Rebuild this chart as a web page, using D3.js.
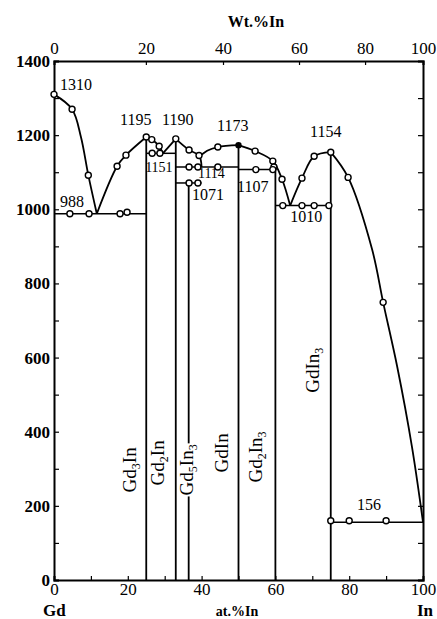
<!DOCTYPE html>
<html>
<head>
<meta charset="utf-8">
<script src="https://cdn.jsdelivr.net/npm/d3@7"></script>
<style>
  body { margin: 0; background: #fff; }
  svg { display: block; }
</style>
</head>
<body>
<div id="chart"></div>
<script>
// liquidus branches, [at.% In, temperature]
const liquidus = [
    [[0, 1310], [4.9, 1270], [7.3, 1195], [9.3, 1092], [11.6, 988]],
    [[11.6, 988], [17.1, 1116], [19.5, 1146], [25, 1195]],
    [[25, 1195], [26.5, 1188], [28.5, 1170], [29.5, 1151]],
    [[29.5, 1151], [33, 1190]],
    [[33, 1190], [36.6, 1160], [39.3, 1145], [40, 1114]],
    [[39, 1138], [41.5, 1158], [44.4, 1168], [50, 1173]],
    [[50, 1173], [54.5, 1157], [59.3, 1130], [61.8, 1081], [64, 1010]],
    [[64, 1010], [67.2, 1084], [70.5, 1143], [75, 1154]],
    [[75, 1154], [79.7, 1086], [86.2, 892], [89.2, 749], [93, 576], [97, 360], [100, 156]]
];

// invariant lines: [from, to, temperature]
const isotherms = [
    [0, 25, 988], [25, 33, 1151], [33, 50, 1114], [33, 40, 1071],
    [50, 60, 1107], [60, 75, 1010], [75, 100, 156]
];

// compounds
const compNames = ["Gd3In", "Gd2In", "Gd5In3", "GdIn", "Gd2In3", "GdIn3"];
const compX = [25, 33, 36.5, 50, 60, 75];
const compTop = [1195, 1190, 1071, 1173, 1107, 1154];
const compLabelAt = [[23.2, 297], [30.8, 316], [38.7, 297], [48.2, 343], [57.4, 332], [72.8, 566]];

// measured points
const liqPts = [
    [0, 1310], [4.9, 1270], [9.3, 1092], [17.1, 1116], [19.5, 1146], [25, 1195],
    [26.5, 1188], [28.5, 1170], [33, 1190], [36.6, 1160], [39.3, 1145], [44.4, 1168],
    [54.5, 1157], [59.3, 1130], [59.6, 1114], [61.8, 1081], [67.2, 1084], [70.5, 1143],
    [75, 1154], [79.7, 1086], [89.2, 749]
];
const solPts = [
    [4.3, 988], [9.5, 988], [17.9, 988], [19.8, 992],
    [26.6, 1151], [28.7, 1151],
    [36.6, 1114], [39, 1114], [44.4, 1114],
    [36.6, 1071], [39, 1071],
    [54.7, 1107], [59.3, 1107],
    [62, 1010], [67.2, 1010], [70.5, 1010], [74.5, 1010],
    [75, 160], [80, 160], [90, 160]
];
const filledPts = [[50, 1173]];

// temperature labels: [text, at.%, temperature]
const tempLabels = [
    ["1310", 1.6, 1322], ["1195", 17.9, 1227], ["1190", 29.3, 1227],
    ["1173", 44.2, 1211], ["1154", 69.4, 1195], ["1151", 24.7, 1101],
    ["1114", 39.0, 1084], ["1071", 37.4, 1025], ["1107", 49.6, 1047],
    ["1010", 64.0, 966], ["988", 1.6, 1006], ["156", 82.1, 189]
];

const yTicks = d3.range(0, 1401, 100);
const xTicks = d3.range(0, 101, 10);
const wtLabels = [0, 20, 40, 60, 80, 100];
const wtAtPos = [0, 24.9, 45.8, 66.4, 84.3, 100];

const width = 437, height = 619;
const margin = { top: 61, right: 14, bottom: 39, left: 54 };
const font = "'Liberation Serif', 'Times New Roman', serif";

const svg = d3.select("#chart").append("svg")
    .attr("width", width)
    .attr("height", height)
    .style("font-family", font);

const x = d3.scaleLinear().domain([0, 100]).range([margin.left, width - margin.right]);
const y = d3.scaleLinear().domain([0, 1400]).range([height - margin.bottom, margin.top]);

// axes
const leftAxis = svg.append("g")
    .attr("transform", `translate(${margin.left},0)`)
    .call(d3.axisLeft(y).tickValues(yTicks).tickSize(-5).tickPadding(4)
        .tickFormat(d => d % 200 === 0 ? d : ""));
leftAxis.selectAll("text").attr("font-size", "17px").attr("font-weight", "bold")
    .attr("font-family", font).attr("fill", "#000");

svg.append("g")
    .attr("transform", `translate(${width - margin.right},0)`)
    .call(d3.axisRight(y).tickValues(yTicks).tickSize(-5).tickFormat(""));

const bottomAxis = svg.append("g")
    .attr("transform", `translate(0,${height - margin.bottom})`)
    .call(d3.axisBottom(x).tickValues(xTicks).tickSize(-4).tickPadding(3)
        .tickFormat(d => d % 20 === 0 ? d : ""));
bottomAxis.selectAll("text").attr("font-size", "17px").attr("font-family", font).attr("fill", "#000");

const topAxis = svg.append("g")
    .attr("transform", `translate(0,${margin.top})`)
    .call(d3.axisTop(x).tickValues(wtAtPos).tickSize(-4).tickPadding(7)
        .tickFormat((d, i) => wtLabels[i]));
topAxis.selectAll("text").attr("font-size", "17px").attr("font-family", font).attr("fill", "#000");

svg.selectAll(".domain").attr("stroke", "#000").attr("stroke-width", 2);
svg.selectAll(".tick line").attr("stroke", "#000").attr("stroke-width", 1.2);

// axis titles
svg.append("text").attr("x", 256).attr("y", 27).attr("text-anchor", "middle")
    .attr("font-size", "16px").attr("font-weight", "bold").text("Wt.%In");
svg.append("text").attr("x", 43).attr("y", 616)
    .attr("font-size", "17px").attr("font-weight", "bold").text("Gd");
svg.append("text").attr("x", 237).attr("y", 616).attr("text-anchor", "middle")
    .attr("font-size", "14px").attr("font-weight", "bold").text("at.%In");
svg.append("text").attr("x", 417).attr("y", 616)
    .attr("font-size", "17px").attr("font-weight", "bold").text("In");

// compound lines
svg.selectAll(".comp")
    .data(compX)
    .enter()
    .append("line")
    .attr("class", "comp")
    .attr("x1", d => x(d)).attr("x2", d => x(d))
    .attr("y1", y(0)).attr("y2", (d, i) => y(compTop[i]))
    .attr("stroke", "#000").attr("stroke-width", 1.8);

// isotherms
svg.selectAll(".iso")
    .data(isotherms)
    .enter()
    .append("line")
    .attr("class", "iso")
    .attr("x1", d => x(d[0])).attr("x2", d => x(d[1]))
    .attr("y1", d => y(d[2])).attr("y2", d => y(d[2]))
    .attr("stroke", "#000").attr("stroke-width", 1.5);

// liquidus
const line = d3.line()
    .x(d => x(d[0]))
    .y(d => y(d[1]))
    .curve(d3.curveCatmullRom.alpha(0.5));

svg.selectAll(".liq")
    .data(liquidus)
    .enter()
    .append("path")
    .attr("class", "liq")
    .attr("d", line)
    .attr("fill", "none")
    .attr("stroke", "#000")
    .attr("stroke-width", 1.8);

// compound labels, rotated
compNames.forEach((name, i) => {
    const g = svg.append("g")
        .attr("transform", `translate(${x(compLabelAt[i][0])},${y(compLabelAt[i][1])}) rotate(-90)`);
    const bg = g.append("rect").attr("fill", "#fff");
    const t = g.append("text")
        .attr("text-anchor", "middle")
        .attr("font-size", "19px");
    name.match(/[A-Za-z]+|\d+/g).forEach(part => {
        if (/\d/.test(part)) {
            t.append("tspan").attr("font-size", "12px").attr("dy", 4).text(part);
        } else {
            t.append("tspan").attr("dy", t.selectAll("tspan").size() ? -4 : 0).text(part);
        }
    });
    const b = t.node().getBBox();
    bg.attr("x", b.x - 1).attr("y", b.y + 2).attr("width", b.width + 2).attr("height", b.height - 2);
});

// temperature labels
svg.selectAll(".tl")
    .data(tempLabels)
    .enter()
    .append("text")
    .attr("class", "tl")
    .attr("x", d => x(d[1]))
    .attr("y", d => y(d[2]))
    .attr("font-size", d => (d[0] === "1114" || d[0] === "1151") ? "14px" : "16px")
    .text(d => d[0]);

// points
svg.selectAll(".pt")
    .data(liqPts.concat(solPts))
    .enter()
    .append("circle")
    .attr("class", "pt")
    .attr("cx", d => x(d[0]))
    .attr("cy", d => y(d[1]))
    .attr("r", 3)
    .attr("fill", "#fff")
    .attr("stroke", "#000")
    .attr("stroke-width", 1.4);

svg.selectAll(".fp")
    .data(filledPts)
    .enter()
    .append("circle")
    .attr("class", "fp")
    .attr("cx", d => x(d[0]))
    .attr("cy", d => y(d[1]))
    .attr("r", 3.2)
    .attr("fill", "#000");
</script>
</body>
</html>
